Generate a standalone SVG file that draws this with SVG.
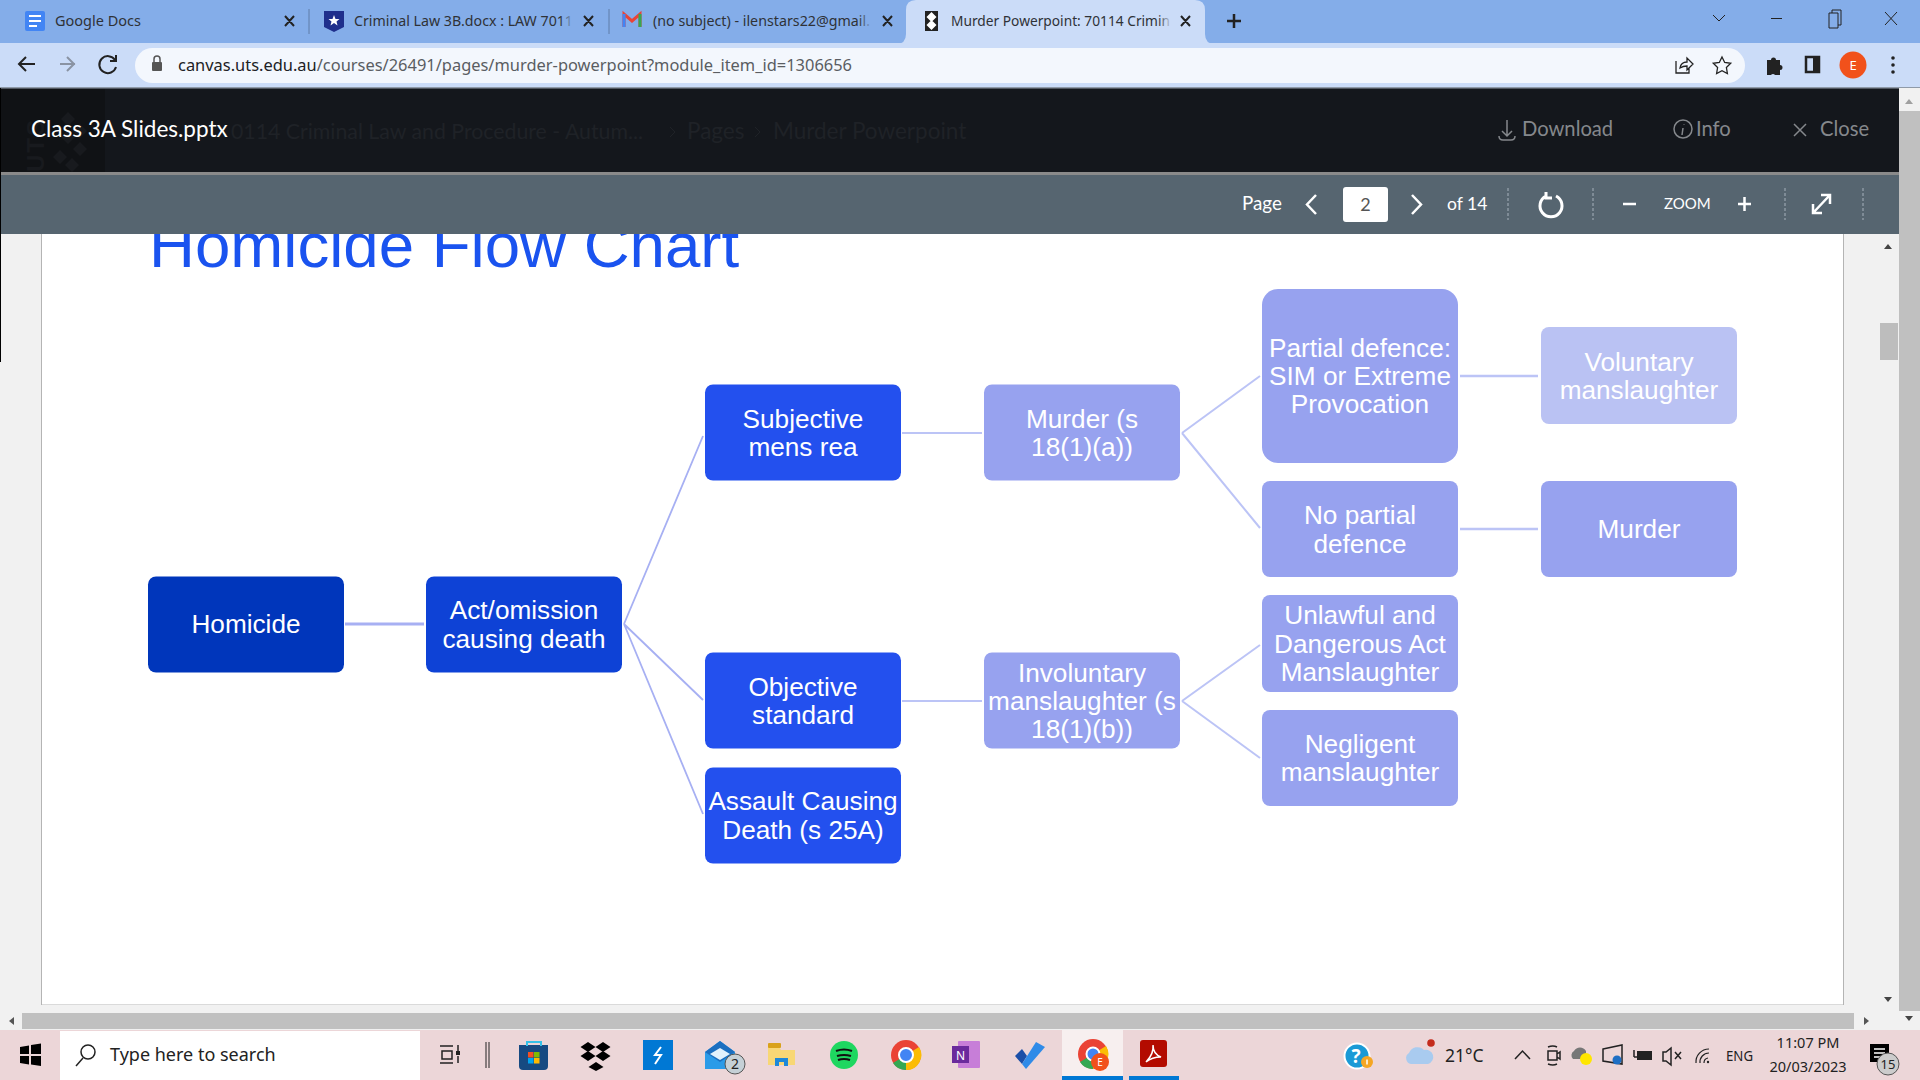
<svg xmlns="http://www.w3.org/2000/svg" width="1920" height="1080" viewBox="0 0 1920 1080">
<style>
text{font-family:"Liberation Sans",Arial,sans-serif}
.n{font-size:26.2px;fill:#fff;text-anchor:middle}
.ui{font-family:"Noto Sans","Open Sans",sans-serif}
.tab{font-family:"Noto Sans",sans-serif;font-size:14.5px;fill:#2f3237}
.lato{font-family:Lato,sans-serif}
.hd{font-family:Lato,sans-serif;font-size:20.2px;fill:#85888c}
.tb{font-family:Lato,sans-serif;font-size:18.800px;fill:#fff}
.x{fill:none;stroke:#222;stroke-width:2}
.w{fill:none;stroke:#fff;stroke-width:2.5}
.g{fill:none;stroke:#85888c;stroke-width:1.5}
.d{stroke:#8c98a2;stroke-width:1.5;stroke-dasharray:3 2}
.c{fill:none;stroke:#a7b0f3;stroke-width:1.8}
.c2{fill:none;stroke:#bcc4f6;stroke-width:2}
.sys{font-family:"Noto Sans",sans-serif;fill:#222}
.k{fill:none;stroke:#222;stroke-width:1.5}
</style>
<defs>
<linearGradient id="fa"><stop offset="0" stop-color="#84ade9" stop-opacity="0"/><stop offset="1" stop-color="#84ade9"/></linearGradient>
<linearGradient id="fb"><stop offset="0" stop-color="#cbdcf8" stop-opacity="0"/><stop offset="1" stop-color="#cbdcf8"/></linearGradient>
</defs>
<rect width="1920" height="1080" fill="#f1f1f1"/>

<!-- slide -->
<rect x="41.500" y="200" width="1802" height="805" fill="#fff" stroke="#b4b4b4" stroke-width="1"/>
<text x="149" y="267" font-size="63.600" fill="#1a53ef">Homicide Flow Chart</text>

<g id="connectors">
<path class="c" style="stroke-width:3" d="M345 624H424"/>
<path class="c" d="M624 624L703 436M624 624L703 700M624 624L703 814"/>
<path class="c2" d="M902 433H982M902 701H982"/>
<path class="c2" d="M1182 433L1260 376M1182 433L1260 528M1182 701L1260 645M1182 701L1260 758"/>
<path class="c2" style="stroke-width:2.500" d="M1460 376H1538M1460 529H1538"/>
</g>

<g id="homicide"><rect x="148" y="576.500" width="196" height="96" rx="8" fill="#0036bb"/><text class="n" x="246" y="632.500">Homicide</text></g>
<g id="act"><rect x="426" y="576.500" width="196" height="96" rx="8" fill="#0e42d6"/><text class="n"><tspan x="524" y="619">Act/omission</tspan><tspan x="524" y="648">causing death</tspan></text></g>
<g id="subjective"><rect x="705" y="384.500" width="196" height="96" rx="8" fill="#2350ee"/><text class="n"><tspan x="803" y="428">Subjective</tspan><tspan x="803" y="456">mens rea</tspan></text></g>
<g id="objective"><rect x="705" y="652.500" width="196" height="96" rx="8" fill="#2350ee"/><text class="n"><tspan x="803" y="696">Objective</tspan><tspan x="803" y="724">standard</tspan></text></g>
<g id="assault"><rect x="705" y="767.500" width="196" height="96" rx="8" fill="#2350ee"/><text class="n"><tspan x="803" y="810">Assault Causing</tspan><tspan x="803" y="838.500">Death (s 25A)</tspan></text></g>
<g id="murder-s"><rect x="984" y="384.500" width="196" height="96" rx="8" fill="#97a2ef"/><text class="n"><tspan x="1082" y="428">Murder (s</tspan><tspan x="1082" y="456">18(1)(a))</tspan></text></g>
<g id="involuntary"><rect x="984" y="652.500" width="196" height="96" rx="8" fill="#97a2ef"/><text class="n"><tspan x="1082" y="682">Involuntary</tspan><tspan x="1082" y="710">manslaughter (s</tspan><tspan x="1082" y="738">18(1)(b))</tspan></text></g>
<g id="partial"><rect x="1262" y="289" width="196" height="174" rx="16" fill="#97a2ef"/><text class="n"><tspan x="1360" y="356.500">Partial defence:</tspan><tspan x="1360" y="385">SIM or Extreme</tspan><tspan x="1360" y="413">Provocation</tspan></text></g>
<g id="no-partial"><rect x="1262" y="481" width="196" height="96" rx="8" fill="#97a2ef"/><text class="n"><tspan x="1360" y="524">No partial</tspan><tspan x="1360" y="552.500">defence</tspan></text></g>
<g id="unlawful"><rect x="1262" y="595" width="196" height="97" rx="8" fill="#97a2ef"/><text class="n"><tspan x="1360" y="624">Unlawful and</tspan><tspan x="1360" y="653">Dangerous Act</tspan><tspan x="1360" y="681">Manslaughter</tspan></text></g>
<g id="negligent"><rect x="1262" y="710" width="196" height="96" rx="8" fill="#97a2ef"/><text class="n"><tspan x="1360" y="753">Negligent</tspan><tspan x="1360" y="781">manslaughter</tspan></text></g>
<g id="voluntary"><rect x="1541" y="327" width="196" height="97" rx="8" fill="#bac2f3"/><text class="n"><tspan x="1639" y="370.500">Voluntary</tspan><tspan x="1639" y="398.500">manslaughter</tspan></text></g>
<g id="murder"><rect x="1541" y="481" width="196" height="96" rx="8" fill="#97a2ef"/><text class="n" x="1639" y="537.500">Murder</text></g>

<!-- viewer header -->
<rect x="0" y="88" width="1899" height="84" fill="#14171c"/>
<rect x="0" y="89" width="105" height="83" fill="#101215"/>
<path d="M68 112l7 7-7 7-7-7zM80 124l7 7-7 7-7-7zM68 130l7 7-7 7-7-7zM80 142l7 7-7 7-7-7zM60 150l7 7-7 7-7-7zM72 158l7 7-7 7-7-7z" fill="#181a1e"/>
<text transform="translate(44 172) rotate(-90)" font-size="24" font-weight="bold" letter-spacing="2" fill="#181a1e">UTS</text>
<text class="lato" x="231" y="139" font-size="22" fill="#1f2227" textLength="412" lengthAdjust="spacingAndGlyphs">0114 Criminal Law and Procedure - Autum...</text>
<text class="lato" x="687" y="139" font-size="22.500" fill="#1f2227">Pages</text>
<text class="lato" x="773" y="139" font-size="22.500" fill="#1f2227">Murder Powerpoint</text>
<path d="M670 127l5 5-5 5M755 127l5 5-5 5" fill="none" stroke="#1f2227" stroke-width="1"/>
<text class="lato" x="31" y="137" font-size="22.500" fill="#fff">Class 3A Slides.pptx</text>
<path class="g" d="M1507 120V136M1502 131l5 5 5-5M1499 136q0 4 4 4h8q4 0 4-4"/>
<text class="hd" x="1522" y="136">Download</text>
<circle class="g" cx="1683" cy="129" r="9"/><path class="g" d="M1684 124v.5M1683 128l-1 7"/>
<text class="hd" x="1696" y="136">Info</text>
<path class="g" d="M1794 124l12 12M1806 124l-12 12"/>
<text class="hd" x="1820" y="136">Close</text>

<!-- toolbar -->
<rect x="0" y="172" width="1899" height="3" fill="#8a8a8a"/>
<rect x="0" y="175" width="1899" height="59" fill="#566570"/>
<text class="tb" x="1242" y="210">Page</text>
<path class="w" d="M1316 195l-9 9.500 9 9.500M1412 195l9 9.500-9 9.500"/>
<rect x="1343" y="187" width="45" height="35" rx="3" fill="#fff"/>
<text class="lato" x="1365.500" y="211" font-size="18" fill="#555" text-anchor="middle">2</text>
<text class="tb" style="font-size:17.500px" x="1447" y="210">of 14</text>
<path class="d" d="M1508 188V220M1593 188V220M1785 188V220M1863 188V220"/>
<path class="w" d="M1546 196a11 11 0 1 0 10 0M1546 192v6h6" style="stroke-width:3"/>
<path class="w" d="M1623 204h13M1738 204h13M1744.500 197v14M1813 213l16-17M1821 195h9v9M1813 204v9h9"/>
<text class="lato" x="1664" y="209" font-size="15" fill="#fff">ZOOM</text>

<!-- chrome -->
<rect width="1920" height="44" fill="#84ade9"/>
<path d="M896 44q10 0 10-10V10q0-10 10-10H1195q10 0 10 10V34q0 10 10 10z" fill="#cbdcf8"/>
<rect y="43" width="1920" height="45" fill="#cbdcf8"/>
<rect y="87" width="1920" height="1.500" fill="#8f9aa8"/>
<rect x="135" y="48" width="1610" height="35" rx="17.500" fill="#f3f7fd"/>
<!-- tabs -->
<rect x="25" y="11" width="20" height="20" rx="2" fill="#4285f4"/><path d="M29 16h12M29 21h12M29 26h8" stroke="#fff" stroke-width="2"/>
<text class="tab" x="55" y="26">Google Docs</text>
<path d="M309 9V34M609 9V34" stroke="#5f7da8" stroke-width="1"/>
<path d="M324 11h20v16l-10 5-10-5z" fill="#1f2f8c"/><path d="M334 15l1.500 4h4l-3 2.500 1 4-3.500-2.500-3.500 2.500 1-4-3-2.500h4z" fill="#fff"/>
<text class="tab" x="354" y="26" textLength="219" lengthAdjust="spacingAndGlyphs">Criminal Law 3B.docx : LAW 7011</text>
<rect x="560" y="10" width="14" height="22" fill="url(#fa)"/>
<path d="M624 27V14l8 7 8-7v13" fill="none" stroke="#ea4335" stroke-width="3"/><path d="M624 27V14" stroke="#4285f4" stroke-width="3"/><path d="M640 27V14" stroke="#34a853" stroke-width="3"/>
<text class="tab" x="653" y="26" textLength="217" lengthAdjust="spacingAndGlyphs">(no subject) - ilenstars22@gmail.</text>
<rect x="858" y="10" width="14" height="22" fill="url(#fa)"/>
<rect x="925" y="11" width="13" height="20" fill="#222"/><path d="M931.500 12l5 5-5 5-5-5zM931.500 20l5 5-5 5-5-5z" fill="#fff"/>
<text class="tab" x="951" y="26" textLength="219" lengthAdjust="spacingAndGlyphs">Murder Powerpoint: 70114 Crimin</text>
<rect x="1158" y="10" width="14" height="22" fill="url(#fb)"/>
<path class="x" d="M285 16l9 10M294 16l-9 10M584 16l9 10M593 16l-9 10M883 16l9 10M892 16l-9 10M1181 16l9 10M1190 16l-9 10"/>
<path d="M1234 14v14M1227 21h14" stroke="#222" stroke-width="2.500"/>
<path class="k" style="stroke-width:1" d="M1713 15l6 6 6-6M1771 18.500h11M1829 13h9v15h-9zM1832 13v-3h9v15h-3M1885 12l12 13M1897 12l-12 13"/>
<!-- nav -->
<path class="k" style="stroke-width:2" d="M35 64H20M26 57l-7 7 7 7M115 60a8.500 8.500 0 1 0 1 7M116 55v6h-6"/>
<path d="M75 64H60M67 57l7 7-7 7" fill="none" stroke="#8a93a3" stroke-width="2"/>
<rect x="152" y="62" width="10" height="9" rx="1" fill="#555"/><path d="M154 62v-3a3 3 0 0 1 6 0v3" fill="none" stroke="#555" stroke-width="1.500"/>
<text class="ui" x="178" y="71" font-size="17" fill="#202124" textLength="674" lengthAdjust="spacingAndGlyphs">canvas.uts.edu.au<tspan fill="#5a5d62">/courses/26491/pages/murder-powerpoint?module_item_id=1306656</tspan></text>
<path class="k" style="stroke-width:1.300" d="M1676 61v12h13v-5M1680 68q1-6 7-6v-4l6 6-6 6v-4q-4 0-7 2zM1722 57l2.700 5.500 6 .8-4.300 4.200 1 6-5.400-2.800-5.400 2.800 1-6-4.300-4.200 6-.8z"/>
<path d="M1767 60h4a2.500 2.500 0 0 1 5 0h4v5a2.500 2.500 0 0 1 0 5v5h-5a2.500 2.500 0 0 0-4 0h-4z" fill="#222"/>
<rect x="1806" y="57" width="13" height="15" fill="none" stroke="#222" stroke-width="2.500"/><rect x="1813" y="57" width="6" height="15" fill="#222"/>
<circle cx="1853" cy="65" r="13.500" fill="#f1511b"/><text class="ui" x="1853" y="70" font-size="13" fill="#fff" text-anchor="middle">E</text>
<circle cx="1893" cy="58" r="1.800" fill="#222"/><circle cx="1893" cy="65" r="1.800" fill="#222"/><circle cx="1893" cy="72" r="1.800" fill="#222"/>

<!-- scrollbars -->
<rect x="0" y="88" width="1" height="274" fill="#000"/>
<rect x="1844" y="234" width="55" height="780" fill="#f1f1f1"/>
<rect x="1880" y="323" width="18" height="37" fill="#bdbdbd"/>
<path d="M1884 249l4-5 4 5zM1884 997l4 5 4-5z" fill="#444"/>
<rect x="1899" y="88" width="21" height="942" fill="#f1f1f1"/>
<rect x="1899" y="111" width="21" height="900" fill="#c0c0c0"/>
<path d="M1905 104l4-5 4 5z" fill="#a0a0a0"/><path d="M1905 1016l4 5 4-5z" fill="#444"/>
<rect x="0" y="1005" width="1899" height="25" fill="#f1f1f1"/>
<rect x="22" y="1013" width="1832" height="16" fill="#c0c0c0"/>
<path d="M14 1017v8l-5-4zM1864 1017v8l5-4z" fill="#555"/>
<rect x="1882" y="1011" width="17" height="19" fill="#f1f1f1"/>

<!-- taskbar -->
<rect y="1030" width="1920" height="50" fill="#ecd6d8"/>
<path d="M20 1047l9-1.500V1054H20zM31 1045l10-1.500V1054H31zM20 1056h9v8.500l-9-1.500zM31 1056h10v10l-10-1.500z" fill="#000"/>
<rect x="60" y="1031" width="360" height="49" fill="#fff"/>
<circle class="k" cx="88" cy="1052" r="7"/><path class="k" d="M83 1058l-7 8"/>
<text class="sys" x="110" y="1061" font-size="18">Type here to search</text>
<path class="k" d="M440 1046h13M440 1063h13M442 1051h10v8h-10zM458 1045v6M458 1056v7"/><rect x="456" y="1051" width="4" height="4" fill="#222"/>
<path class="k" style="stroke-width:1" d="M486 1042v26M489 1042v26"/>
<path d="M519 1045h29v21q0 4-4 4h-21q-4 0-4-4z" fill="#164a82"/><path d="M527 1046v-4h14v4" fill="none" stroke="#35c0e8" stroke-width="2"/><rect x="528" y="1052" width="5.500" height="5.500" fill="#f25022"/><rect x="534" y="1052" width="5.500" height="5.500" fill="#7fba00"/><rect x="528" y="1058" width="5.500" height="5.500" fill="#00a4ef"/><rect x="534" y="1058" width="5.500" height="5.500" fill="#ffb900"/>
<path d="M588 1042l7.500 5-7.500 5-7.500-5zM603 1042l7.500 5-7.500 5-7.500-5zM588 1051l7.500 5-7.500 5-7.500-5zM603 1051l7.500 5-7.500 5-7.500-5zM596 1062l7.500 5-7.500 4-7.500-4z" fill="#000"/>
<rect x="643" y="1040" width="30" height="30" fill="#0078d4"/><path d="M661 1047l-6 8h6l-6 9" fill="none" stroke="#fff" stroke-width="2"/>
<path d="M705 1052l15-11 15 11v17h-30z" fill="#2b9be8"/><path d="M705 1052l15-11 15 11-15 10z" fill="#1b6fc0"/><path d="M710 1054l10-6 10 6-10 6z" fill="#e3f2fc"/>
<circle cx="735" cy="1064" r="10" fill="#c5d0d6" stroke="#555"/><text class="sys" x="735" y="1069" font-size="14" text-anchor="middle">2</text>
<path d="M768 1047h11l2 3h14v15h-27z" fill="#f8d775"/><rect x="768" y="1043" width="13" height="5" rx="1" fill="#d9a21b"/><path d="M775 1066v-8h13v8h-4v-4h-5v4z" fill="#1e88d8"/>
<circle cx="844" cy="1055" r="14" fill="#1ed760"/><path d="M836 1051q8-3 16 0M837 1056q7-2 14 0M838 1060q6-2 12 0" fill="none" stroke="#111" stroke-width="2.200"/>
<circle cx="906" cy="1055" r="15" fill="#ea4335"/><path d="M906 1055L893 1063A15 15 0 0 0 906 1070z" fill="#34a853"/><path d="M906 1055L919 1047A15 15 0 0 1 906 1070z" fill="#fbbc05"/><circle cx="906" cy="1055" r="7" fill="#4285f4" stroke="#fff" stroke-width="2"/>
<rect x="958" y="1041" width="22" height="27" rx="1" fill="#c77ed8"/><rect x="952" y="1046" width="17" height="17" fill="#6a2a9c"/><text class="sys" x="960.500" y="1060" font-size="12" style="fill:#fff" text-anchor="middle">N</text>
<path d="M1015 1056l7-7 5 7-5 8z" fill="#1b4fa8"/><path d="M1022 1064l14-22 9 5-19 22z" fill="#2f8be8"/>
<rect x="1062" y="1030" width="61" height="50" fill="#f7efef"/>
<circle cx="1093" cy="1054" r="15" fill="#ea4335"/><path d="M1093 1054L1080 1062A15 15 0 0 0 1093 1069z" fill="#34a853"/><path d="M1093 1054L1106 1046A15 15 0 0 1 1093 1069z" fill="#fbbc05"/><circle cx="1093" cy="1054" r="6.500" fill="#4285f4" stroke="#fff" stroke-width="2"/>
<circle cx="1100" cy="1062" r="9" fill="#f1511b"/><text class="sys" x="1100" y="1066" font-size="10" style="fill:#fff" text-anchor="middle">E</text>
<rect x="1062" y="1076" width="61" height="4" fill="#0078d4"/><rect x="1129" y="1076" width="50" height="4" fill="#0078d4"/>
<rect x="1140" y="1040" width="27" height="27" rx="3" fill="#b30b00"/><path d="M1146 1062q8-8 7-17 0 9 8 12-9 0-15 5z" fill="none" stroke="#fff" stroke-width="1.500"/>
<circle cx="1357" cy="1056" r="12.500" fill="#1a9ad6" stroke="#fff" stroke-width="2"/><text class="sys" x="1356" y="1063" font-size="19" font-weight="bold" style="fill:#fff" text-anchor="middle">?</text><circle cx="1367" cy="1062" r="6" fill="#f5a623"/><path d="M1367 1059.500v5" stroke="#fff" stroke-width="1.500"/>
<path d="M1411 1064a6 6 0 0 1-2-11 9 9 0 0 1 15-3 7 7 0 0 1 4 14z" fill="#a9cbef"/><circle cx="1431" cy="1043" r="3.800" fill="#c42b1c"/>
<text class="sys" x="1445" y="1062" font-size="17.500">21°C</text>
<path class="k" d="M1515 1059l7.500-8 7.500 8"/>
<path class="k" d="M1548 1051h9v9h-9zM1557 1054l3-2v7l-3-2M1548 1047q5-2 9 0M1548 1064q5 2 9 0"/>
<path d="M1573 1059a5 5 0 0 1 1-8 7 7 0 0 1 12 0v8z" fill="#777"/><circle cx="1586" cy="1059" r="6" fill="#ffe600"/>
<path class="k" d="M1603 1049l19-4v19l-19-3z"/><circle cx="1617" cy="1060" r="4.500" fill="#1f6fc4"/>
<rect x="1637" y="1051" width="15" height="9" fill="#222"/><path class="k" d="M1634 1050v7M1634 1057h3"/>
<path class="k" d="M1663 1052h3l5-4v17l-5-4h-3zM1675 1052l6 7M1681 1052l-6 7"/>
<path class="k" style="stroke-width:1.200" d="M1696 1063a13 13 0 0 1 13-14M1700 1063a9 9 0 0 1 9-10M1704 1063a5 5 0 0 1 4-5"/><circle cx="1708" cy="1062" r="1.200" fill="#222"/>
<text class="sys" x="1726" y="1061" font-size="14.500" textLength="27" lengthAdjust="spacingAndGlyphs">ENG</text>
<text class="sys" x="1808" y="1048" font-size="14.500" text-anchor="middle">11:07 PM</text>
<text class="sys" x="1808" y="1072" font-size="14.500" text-anchor="middle">20/03/2023</text>
<path d="M1870 1044h19v18h-19z" fill="#000"/><path d="M1874 1049h11M1874 1053h11M1874 1057h11" stroke="#fff" stroke-width="1.500"/>
<circle cx="1888" cy="1064" r="11" fill="#ccc" stroke="#555"/><text class="sys" x="1888" y="1069" font-size="13" text-anchor="middle">15</text>
</svg>
